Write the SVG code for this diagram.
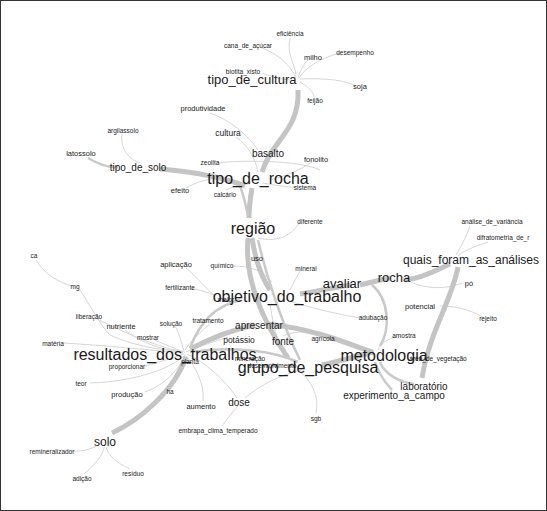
<svg xmlns="http://www.w3.org/2000/svg" width="547" height="511" viewBox="0 0 547 511">
<style>
text{font-family:"Liberation Sans",Arial,sans-serif;fill:#1a1a1a;text-anchor:middle;dominant-baseline:central}
.s6{font-size:6.5px}.s7{font-size:7.5px}.s8{font-size:8.5px}.s9{font-size:10px}.s11{font-size:12px}.s12{font-size:13px}.s15{font-size:16px}
.t{fill:none;stroke:#d6d6d6;stroke-width:1}
.m{fill:none;stroke:#c9c9c9;stroke-width:2.5}
.k{fill:none;stroke:#c4c4c4;stroke-width:5}
</style>
<rect x="0.5" y="0.5" width="546" height="510" fill="#fff" stroke="#333" stroke-width="1"/>
<g id="connectors">
<path class="t" d="M290 38 C286 55 296 65 296 76"/>
<path class="t" d="M262 48 C280 55 290 65 296 78"/>
<path class="t" d="M308 60 C302 66 300 72 298 78"/>
<path class="t" d="M340 53 C320 58 305 68 299 78"/>
<path class="t" d="M262 73 C275 78 285 80 292 80"/>
<path class="t" d="M300 79 C325 78 345 80 356 86"/>
<path class="t" d="M300 82 C310 88 314 93 314 97"/>
<path class="t" d="M210 113 C230 120 248 135 258 150"/>
<path class="t" d="M236 137 C248 145 255 158 258 172"/>
<path class="t" d="M312 162 C300 170 285 176 270 180"/>
<path class="t" d="M122 134 C120 150 130 160 140 163"/>
<path class="t" d="M217 163 C240 160 300 160 320 170"/>
<path class="t" d="M186 188 C200 180 212 178 225 178"/>
<path class="t" d="M226 190 C235 186 242 184 250 184"/>
<path class="t" d="M262 183 C280 186 292 188 298 187"/>
<path class="t" d="M300 222 C290 238 275 242 258 238"/>
<path class="t" d="M186 268 C198 278 205 288 215 296"/>
<path class="t" d="M232 266 C250 266 262 270 272 282"/>
<path class="t" d="M300 271 C295 280 292 286 290 290"/>
<path class="t" d="M190 288 C200 290 208 292 215 296"/>
<path class="t" d="M292 302 C320 310 345 316 362 318"/>
<path class="t" d="M322 335 C305 330 290 332 283 336"/>
<path class="t" d="M395 337 C385 340 380 345 378 350"/>
<path class="t" d="M410 358 C415 358 420 358 423 358"/>
<path class="t" d="M470 226 C465 240 460 248 456 255"/>
<path class="t" d="M488 242 C470 248 462 252 458 256"/>
<path class="t" d="M400 276 C420 290 445 290 462 283"/>
<path class="t" d="M440 306 C460 306 475 312 484 318"/>
<path class="t" d="M36 260 C45 275 60 283 72 286"/>
<path class="t" d="M80 290 C90 305 100 325 110 335 C130 345 160 350 185 352"/>
<path class="t" d="M95 318 C120 330 150 345 183 352"/>
<path class="t" d="M125 330 C140 342 160 350 183 352"/>
<path class="t" d="M155 340 C165 345 175 348 183 352"/>
<path class="t" d="M63 343 C100 345 150 350 183 353"/>
<path class="t" d="M175 326 C180 335 182 345 184 351"/>
<path class="t" d="M212 322 C200 332 190 342 185 350"/>
<path class="t" d="M145 366 C160 362 175 357 184 354"/>
<path class="t" d="M90 383 C130 382 170 370 185 355"/>
<path class="t" d="M145 392 C165 385 180 368 185 355"/>
<path class="t" d="M170 386 C175 375 180 365 185 356"/>
<path class="t" d="M203 401 C205 385 195 365 186 356"/>
<path class="t" d="M228 337 C210 343 195 348 186 352"/>
<path class="t" d="M237 398 C225 380 205 362 187 354"/>
<path class="t" d="M245 398 C260 385 280 375 302 370"/>
<path class="t" d="M222 426 C228 418 234 410 238 406"/>
<path class="t" d="M316 413 C320 395 310 380 300 372"/>
<path class="t" d="M70 451 C85 452 95 448 102 442"/>
<path class="t" d="M84 474 C95 465 103 455 104 447"/>
<path class="t" d="M130 469 C115 462 108 455 106 447"/>
<path class="t" d="M278 340 C274 330 272 315 270 305"/>
<path class="m" d="M88 158 C100 165 110 168 118 167"/>
<path class="k" d="M160 169 C195 172 225 178 245 186"/>
<path class="k" d="M298 90 C300 130 272 140 262 172"/>
<path class="k" d="M252 188 C250 200 249 210 249 218"/>
<path class="m" d="M240 186 C244 196 246 206 248 216"/>
<path class="k" d="M252 238 C255 258 262 278 270 290"/>
<path class="k" d="M248 238 C244 280 262 320 288 358"/>
<path class="m" d="M258 240 C265 270 280 320 300 360"/>
<path class="k" d="M300 294 C325 290 340 286 352 285"/>
<path class="k" d="M360 285 C372 282 380 280 390 278"/>
<path class="k" d="M405 280 C425 278 440 268 450 264"/>
<path class="k" d="M458 267 C452 300 430 330 422 378"/>
<path class="m" d="M372 285 C390 300 390 330 380 346"/>
<path class="m" d="M380 362 C385 375 400 382 414 384"/>
<path class="m" d="M375 362 C380 378 388 385 392 390"/>
<path class="k" d="M190 349 C215 336 240 328 255 325"/>
<path class="k" d="M268 324 C320 330 350 345 372 352"/>
<path class="m" d="M190 352 C230 346 270 350 298 362"/>
<path class="k" d="M322 365 C345 360 360 355 374 352"/>
<path class="m" d="M190 348 C200 322 215 306 240 300"/>
<path class="k" d="M186 357 C175 390 140 420 112 433"/>
</g>
<g id="n-tipo_de_cultura"><text class="s12" x="252" y="79">tipo_de_cultura</text></g>
<g id="n-eficiencia"><text class="s6" x="290" y="33">eficiência</text></g>
<g id="n-cana_de_acucar"><text class="s6" x="248" y="45">cana_de_açúcar</text></g>
<g id="n-milho"><text class="s7" x="313" y="57">milho</text></g>
<g id="n-desempenho"><text class="s6" x="355" y="52">desempenho</text></g>
<g id="n-biotita_xisto"><text class="s6" x="243" y="71">biotita_xisto</text></g>
<g id="n-soja"><text class="s7" x="360" y="86">soja</text></g>
<g id="n-feijao"><text class="s6" x="315" y="100">feijão</text></g>
<g id="n-produtividade"><text class="s7" x="203" y="108">produtividade</text></g>
<g id="n-cultura"><text class="s8" x="228" y="133">cultura</text></g>
<g id="n-basalto"><text class="s9" x="268" y="153">basalto</text></g>
<g id="n-fonolito"><text class="s7" x="316" y="159">fonolito</text></g>
<g id="n-argilassolo"><text class="s6" x="123" y="130">argilassolo</text></g>
<g id="n-latossolo"><text class="s7" x="81" y="153">latossolo</text></g>
<g id="n-tipo_de_solo"><text class="s9" x="138" y="167">tipo_de_solo</text></g>
<g id="n-zeolita"><text class="s6" x="210" y="162">zeolita</text></g>
<g id="n-tipo_de_rocha"><text class="s15" x="258" y="178">tipo_de_rocha</text></g>
<g id="n-efeito"><text class="s7" x="180" y="190">efeito</text></g>
<g id="n-calcario"><text class="s6" x="225" y="194">calcário</text></g>
<g id="n-sistema"><text class="s6" x="305" y="187">sistema</text></g>
<g id="n-regiao"><text class="s15" x="253" y="228">região</text></g>
<g id="n-diferente"><text class="s6" x="310" y="221">diferente</text></g>
<g id="n-uso"><text class="s7" x="257" y="258">uso</text></g>
<g id="n-aplicacao"><text class="s7" x="176" y="264">aplicação</text></g>
<g id="n-quimico"><text class="s6" x="222" y="265">químico</text></g>
<g id="n-mineral"><text class="s6" x="306" y="268">mineral</text></g>
<g id="n-fertilizante"><text class="s6" x="180" y="287">fertilizante</text></g>
<g id="n-maior"><text class="s6" x="226" y="299">maior</text></g>
<g id="n-objetivo_do_trabalho"><text class="s15" x="287" y="296">objetivo_do_trabalho</text></g>
<g id="n-avaliar"><text class="s12" x="342" y="283">avaliar</text></g>
<g id="n-rocha"><text class="s12" x="394" y="277">rocha</text></g>
<g id="n-quais_foram_as_analises"><text class="s11" x="471" y="260">quais_foram_as_análises</text></g>
<g id="n-analise_de_variancia"><text class="s6" x="492" y="221">análise_de_variância</text></g>
<g id="n-difratometria"><text class="s6" x="503" y="237">difratometria_de_r</text></g>
<g id="n-po"><text class="s7" x="469" y="283">pó</text></g>
<g id="n-potencial"><text class="s7" x="420" y="306">potencial</text></g>
<g id="n-rejeito"><text class="s6" x="488" y="318">rejeito</text></g>
<g id="n-solucao"><text class="s6" x="171" y="323">solução</text></g>
<g id="n-tratamento"><text class="s6" x="208" y="320">tratamento</text></g>
<g id="n-apresentar"><text class="s9" x="259" y="325">apresentar</text></g>
<g id="n-adubacao"><text class="s6" x="373" y="317">adubação</text></g>
<g id="n-liberacao"><text class="s6" x="89" y="316">liberação</text></g>
<g id="n-nutriente"><text class="s7" x="121" y="326">nutriente</text></g>
<g id="n-mostrar"><text class="s6" x="148" y="337">mostrar</text></g>
<g id="n-materia"><text class="s6" x="53" y="343">matéria</text></g>
<g id="n-potassio"><text class="s8" x="239" y="340">potássio</text></g>
<g id="n-fonte"><text class="s9" x="283" y="341">fonte</text></g>
<g id="n-agricola"><text class="s6" x="323" y="338">agrícola</text></g>
<g id="n-amostra"><text class="s6" x="404" y="335">amostra</text></g>
<g id="n-planta"><text class="s6" x="190" y="361">planta</text></g>
<g id="n-mineracao"><text class="s6" x="250" y="358">mineração</text></g>
<g id="n-desenvolvimento"><text class="s6" x="272" y="365">desenvolvimento</text></g>
<g id="n-area_de_vegetacao"><text class="s6" x="438" y="358">área_de_vegetação</text></g>
<g id="n-resultados_dos_trabalhos"><text class="s15" x="165" y="354">resultados_dos_trabalhos</text></g>
<g id="n-metodologia"><text class="s15" x="384" y="355">metodologia</text></g>
<g id="n-grupo_de_pesquisa"><text class="s15" x="308" y="367">grupo_de_pesquisa</text></g>
<g id="n-proporcionar"><text class="s6" x="127" y="366">proporcionar</text></g>
<g id="n-teor"><text class="s6" x="81" y="383">teor</text></g>
<g id="n-producao"><text class="s7" x="127" y="394">produção</text></g>
<g id="n-ha"><text class="s6" x="170" y="391">ha</text></g>
<g id="n-aumento"><text class="s7" x="201" y="406">aumento</text></g>
<g id="n-dose"><text class="s9" x="239" y="402">dose</text></g>
<g id="n-laboratorio"><text class="s9" x="424" y="386">laboratório</text></g>
<g id="n-experimento_a_campo"><text class="s9" x="394" y="395">experimento_a_campo</text></g>
<g id="n-embrapa_clima_temperado"><text class="s6" x="218" y="430">embrapa_clima_temperado</text></g>
<g id="n-sgb"><text class="s6" x="316" y="418">sgb</text></g>
<g id="n-solo"><text class="s11" x="105" y="442">solo</text></g>
<g id="n-remineralizador"><text class="s6" x="52" y="451">remineralizador</text></g>
<g id="n-adicao"><text class="s6" x="82" y="478">adição</text></g>
<g id="n-residuo"><text class="s6" x="133" y="473">resíduo</text></g>
<g id="n-ca"><text class="s6" x="34" y="255">ca</text></g>
<g id="n-mg"><text class="s6" x="75" y="286">mg</text></g>
</svg>
